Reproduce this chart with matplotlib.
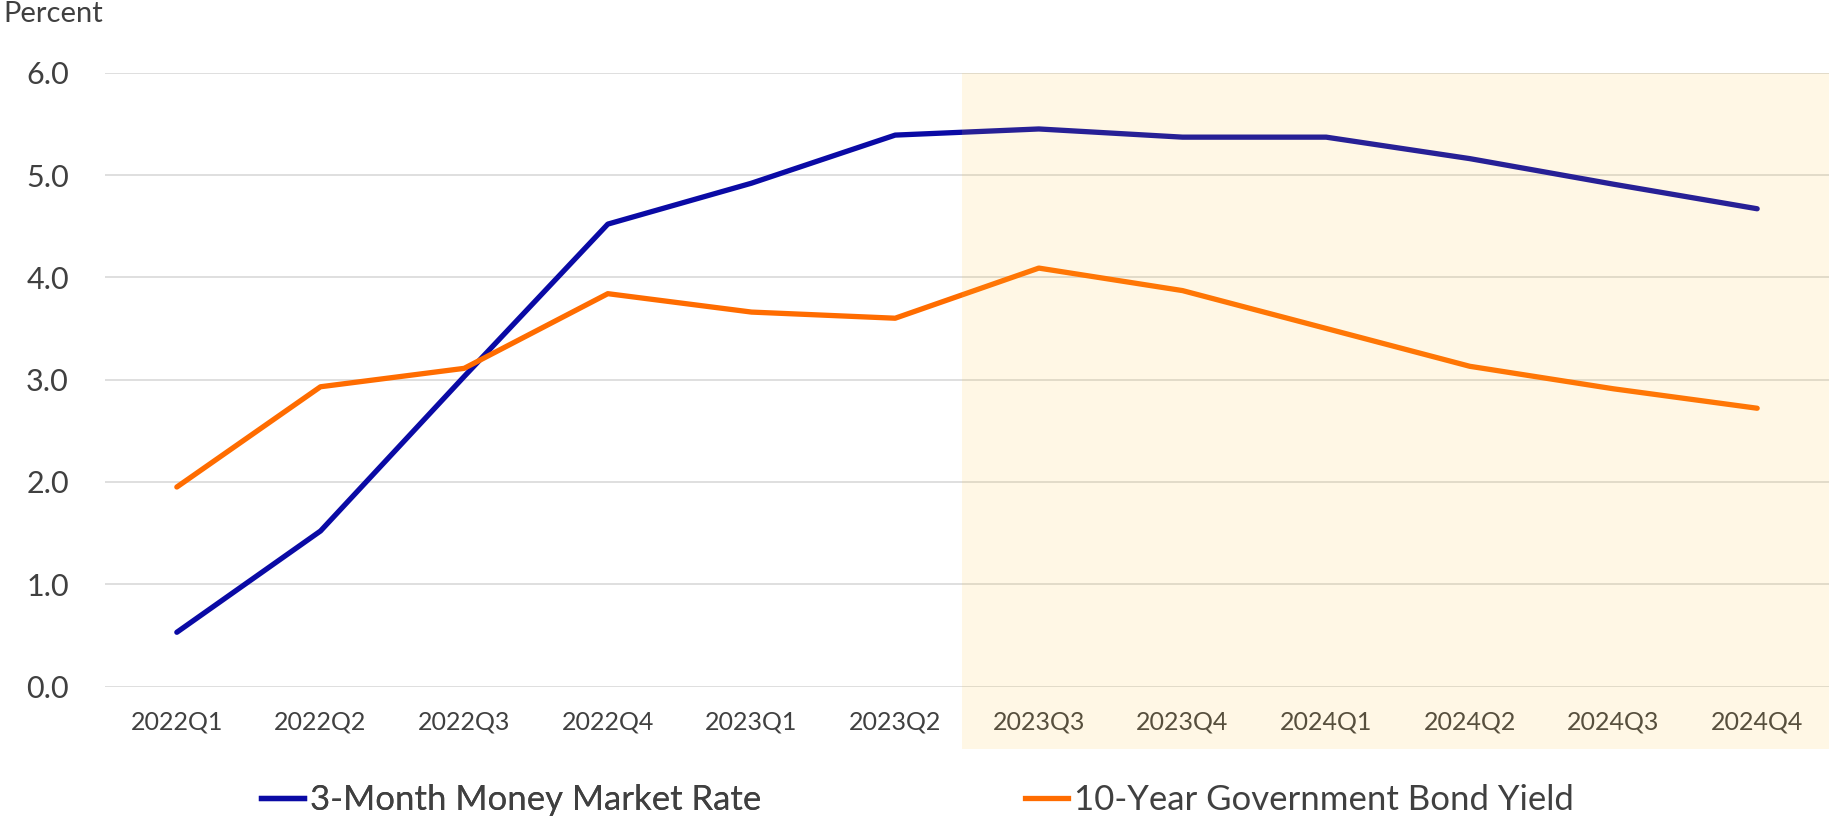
import matplotlib.pyplot as plt
from matplotlib.patches import Rectangle
from matplotlib.lines import Line2D

# quarterly data, percent
quarters = ["2022Q1", "2022Q2", "2022Q3", "2022Q4", "2023Q1", "2023Q2",
            "2023Q3", "2023Q4", "2024Q1", "2024Q2", "2024Q3", "2024Q4"]
money_market = [0.53, 1.52, 3.03, 4.52, 4.92, 5.39, 5.45, 5.37, 5.37, 5.16, 4.91, 4.67]
bond_yield = [1.95, 2.93, 3.11, 3.84, 3.66, 3.60, 4.09, 3.87, 3.50, 3.13, 2.91, 2.72]
yticks = [0.0, 1.0, 2.0, 3.0, 4.0, 5.0, 6.0]
shade_from = "2023Q3"

blue = "#0A0AA5"
orange = "#FF6C00"
txt = "#404040"

plt.rcParams["font.family"] = ["Lato", "DejaVu Sans"]

fig = plt.figure(figsize=(18.33, 8.17), dpi=100)
ax = fig.add_axes([105 / 1833, 1 - 686.5 / 817, (1829 - 105) / 1833, (686.5 - 72.7) / 817])

x = list(range(len(quarters)))
ax.plot(x, money_market, color=blue, lw=3.8, solid_capstyle="round", solid_joinstyle="round", zorder=3)
ax.plot(x, bond_yield, color=orange, lw=3.8, solid_capstyle="round", solid_joinstyle="round", zorder=3)

# forecast shading, reaching down under the tick labels
s = quarters.index(shade_from) - 0.535
ax.add_patch(Rectangle((s, -0.102), len(quarters) - 0.5 - s, 1.102,
                       transform=ax.get_xaxis_transform(), facecolor="#FFC02B",
                       alpha=0.12, edgecolor="none", clip_on=False, zorder=4))

ax.set_xlim(-0.5, len(quarters) - 0.5)
ax.set_ylim(0, 6)
ax.set_xticks(x)
ax.set_xticklabels(quarters)
ax.set_yticks(yticks)
ax.set_yticklabels([f"{v:.1f}" for v in yticks])
ax.tick_params(axis="x", length=0, pad=17, labelsize=18, labelcolor=txt)
ax.tick_params(axis="y", length=0, pad=26, labelsize=22, labelcolor=txt)
ax.grid(axis="y", color="#D9D9D9", lw=1.2)
ax.set_axisbelow(True)
for sp in ax.spines.values():
    sp.set_visible(False)

fig.text(3 / 1833, 1 - 1 / 817, "Percent", fontsize=21, color=txt, va="top", ha="left")

# two legend entries placed apart
leg_y = 1 - 800 / 817
h1 = Line2D([], [], color=blue, lw=3.8)
h2 = Line2D([], [], color=orange, lw=3.8)
l1 = fig.legend([h1], ["3-Month Money Market Rate"], loc="center left",
                bbox_to_anchor=(261 / 1833, leg_y), frameon=False, fontsize=25,
                handlelength=1.25, handletextpad=0.16, borderpad=0, borderaxespad=0,
                labelcolor=txt)
l2 = fig.legend([h2], ["10-Year Government Bond Yield"], loc="center left",
                bbox_to_anchor=(1025 / 1833, leg_y), frameon=False, fontsize=25,
                handlelength=1.25, handletextpad=0.16, borderpad=0, borderaxespad=0,
                labelcolor=txt)
fig.add_artist(l1)

fig.savefig("out.png", dpi=100)
